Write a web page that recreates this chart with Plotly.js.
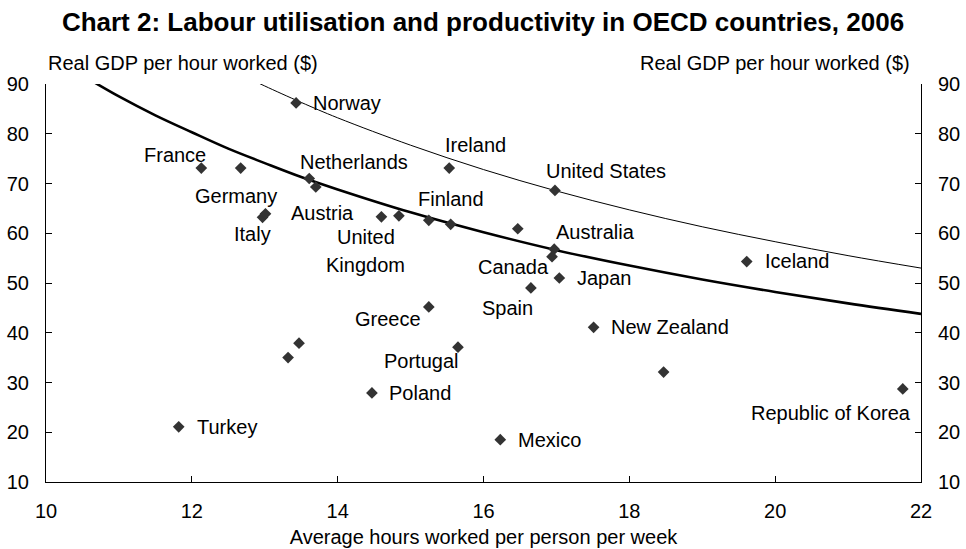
<!DOCTYPE html>
<html>
<head>
<meta charset="utf-8">
<script src="https://cdn.plot.ly/plotly-3.0.1.min.js"></script>
<style>html,body{margin:0;padding:0;background:#fff;}#chart{width:966px;height:549px;}</style>
</head>
<body>
<div id="chart"></div>
<script>
// Country data
const countries = ["Norway","France","Germany","Netherlands","","Italy","","Austria","United Kingdom","","Finland","Ireland","United States","","Australia","Canada","Japan","Spain","Iceland","New Zealand","","Republic of Korea","Mexico","Greece","Portugal","Poland","Turkey","",""];
const hoursWorked = [13.43,12.13,12.67,13.61,13.70,12.97,13.01,14.60,14.84,15.25,15.55,15.53,16.98,16.47,16.97,16.94,17.04,16.65,19.61,17.51,18.47,21.75,16.23,15.25,15.65,14.47,11.82,13.32,13.47];
const gdpPerHour = [86.2,73.1,73.1,71.0,69.3,63.2,63.9,63.3,63.5,62.6,61.8,73.1,68.6,60.9,56.8,55.3,51.0,49.0,54.3,41.1,32.1,28.7,18.5,45.2,37.1,27.9,21.1,35.0,37.9];

// Iso-curves
const thickCurveX = [10.55,11,11.5,12,12.5,13,13.5,14,15,16,17,18,19,20,21,22];
const thickCurveY = [91.3,87.5,83.7,80.3,77.0,74.1,71.3,68.8,64.2,60.2,56.6,53.5,50.7,48.2,45.9,43.8];
const thinCurveX = [12.8,13,13.5,14,15,16,17,18,19,20,21,22];
const thinCurveY = [91.0,89.6,86.3,83.2,77.7,72.8,68.5,64.7,61.3,58.3,55.5,53.0];

const xTicks = [10,12,14,16,18,20,22];
const yTicks = [10,20,30,40,50,60,70,80,90];

// Label placement: [country, text, anchor, xshift px, yshift px]
const labelPlacement = [
  ["Norway","Norway","left",15,0],
  ["France","France","right",7,12.6],
  ["Germany","Germany","center",-5,-28.4],
  ["Italy","Italy","center",-10,-16.3],
  ["Netherlands","Netherlands","left",-11,16.3],
  ["Austria","Austria","right",-25,3.7],
  ["United Kingdom","United","center",-33,-21],
  ["United Kingdom","Kingdom","center",-33,-48.7],
  ["Finland","Finland","center",0,25.4],
  ["Ireland","Ireland","left",-6,23.3],
  ["United States","United States","left",-11,19],
  ["Australia","Australia","left",0,17],
  ["Canada","Canada","right",-1,-10],
  ["Japan","Japan","left",16,0],
  ["Spain","Spain","right",4,-20],
  ["Iceland","Iceland","left",16,1],
  ["New Zealand","New Zealand","left",15,0],
  ["Republic of Korea","Republic of Korea","right",10,-24.3],
  ["Mexico","Mexico","left",16,0],
  ["Greece","Greece","right",-6,-12],
  ["Portugal","Portugal","right",3,-13.7],
  ["Poland","Poland","left",15,0],
  ["Turkey","Turkey","left",16,0]
];

const FONT = "Liberation Sans, Arial, sans-serif";
const LABEL_SIZE = 20;

const traces = [
  {x: thickCurveX, y: thickCurveY, mode: "lines", line: {color: "#000", width: 2.6, shape: "spline"}, hoverinfo: "skip"},
  {x: thinCurveX, y: thinCurveY, mode: "lines", line: {color: "#000", width: 1, shape: "spline"}, hoverinfo: "skip"},
  {x: hoursWorked, y: gdpPerHour, text: countries, mode: "markers",
   marker: {symbol: "diamond", size: 9, color: "#333333", line: {width: 0}}},
  {x: [10, 22], y: [10, 90], yaxis: "y2", mode: "markers", marker: {opacity: 0}, hoverinfo: "skip"}
];

const annotations = labelPlacement.map(([c, t, anchor, dx, dy]) => {
  const i = countries.indexOf(c);
  return {x: hoursWorked[i], y: gdpPerHour[i], xref: "x", yref: "y", text: t, showarrow: false,
          xanchor: anchor, yanchor: "middle", xshift: dx, yshift: dy,
          font: {family: FONT, size: LABEL_SIZE, color: "#000"}};
});
annotations.push({xref: "paper", yref: "paper", x: 0, y: 1, xanchor: "left", yanchor: "middle", xshift: 0, yshift: 21,
  text: "Real GDP per hour worked ($)", showarrow: false, font: {family: FONT, size: LABEL_SIZE, color: "#000"}});
annotations.push({xref: "paper", yref: "paper", x: 1, y: 1, xanchor: "right", yanchor: "middle", xshift: -9, yshift: 21,
  text: "Real GDP per hour worked ($)", showarrow: false, font: {family: FONT, size: LABEL_SIZE, color: "#000"}});

const axisCommon = {showgrid: false, zeroline: false, showline: true, linecolor: "#000", linewidth: 1,
  ticks: "inside", ticklen: 6, tickcolor: "#000", tickfont: {family: FONT, size: LABEL_SIZE, color: "#000"}};

const layout = {
  width: 966, height: 549,
  margin: {l: 46, r: 45, t: 84, b: 67, pad: 0},
  paper_bgcolor: "#fff", plot_bgcolor: "#fff",
  showlegend: false,
  font: {family: FONT, color: "#000"},
  title: {text: "<b>Chart 2: Labour utilisation and productivity in OECD countries, 2006</b>",
          font: {family: FONT, size: 26, color: "#000"}, x: 0.5, xanchor: "center", y: 0.961, yanchor: "middle"},
  xaxis: Object.assign({}, axisCommon, {range: [10, 22], tickvals: xTicks, ticklabelstandoff: 11,
          title: {text: "Average hours worked per person per week", font: {family: FONT, size: LABEL_SIZE, color: "#000"}, standoff: 8}}),
  yaxis: Object.assign({}, axisCommon, {range: [10, 90], tickvals: yTicks, ticklabelstandoff: 12}),
  yaxis2: Object.assign({}, axisCommon, {range: [10, 90], tickvals: yTicks, overlaying: "y", side: "right", ticklabelstandoff: 12}),
  annotations: annotations
};

Plotly.newPlot("chart", traces, layout, {displayModeBar: false, staticPlot: true});
</script>
</body>
</html>
